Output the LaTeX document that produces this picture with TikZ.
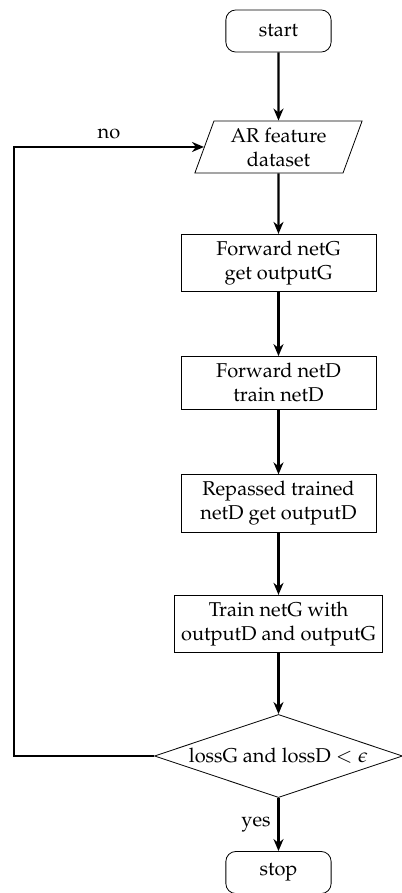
\documentclass[tikz,border=0pt]{standalone}
\usepackage{amsmath,amssymb}
\usepackage[T1]{fontenc}
\usepackage{mathpazo}
\usepackage{xcolor}
\usepackage{tikz}
\usetikzlibrary{shapes.geometric,arrows.meta}

\begin{document}
\begin{tikzpicture}[
    term/.style={draw, rounded corners=5pt, minimum width=1.85cm, minimum height=0.74cm, inner sep=1pt},
    io/.style={draw, trapezium, trapezium left angle=71, trapezium right angle=109, trapezium stretches=true, minimum width=2.95cm, minimum height=0.914cm, align=center, inner sep=1pt},
    proc/.style={draw, minimum width=3.43cm, minimum height=0.93cm, align=center},
    decide/.style={draw, diamond, aspect=3, minimum width=4.36cm, minimum height=1.46cm, inner sep=1pt},
    flow/.style={very thick, -{Stealth[length=6pt,width=5pt]}}
  ]
        \useasboundingbox (0,0) rectangle (7.047,-15.693);
        \node[term] (start) at (4.894,-0.545) {start};
        \node[io] (data) at (4.894,-2.583) {AR feature\\dataset};
        \node[proc] (fwdG) at (4.894,-4.622) {Forward netG\\get outputG};
        \node[proc] (fwdD) at (4.894,-6.730) {Forward netD\\train netD};
        \node[proc] (repass) at (4.894,-8.848) {Repassed trained\\netD get outputD};
        \node[proc] (trainG) at (4.894,-10.966) {Train netG with\\outputD and outputG};
        \node[decide] (check) at (4.894,-13.285) {lossG and lossD $<\epsilon$};
        \node[term] (stop) at (4.894,-15.333) {stop};
        \coordinate (back) at (0.246,-13.285);
        \draw[flow] (start) -- (data);
        \draw[flow] (data) -- (fwdG);
        \draw[flow] (fwdG) -- (fwdD);
        \draw[flow] (fwdD) -- (repass);
        \draw[flow] (repass) -- (trainG);
        \draw[flow] (trainG) -- (check);
        \draw[flow] (check) -- node[left] {yes} (stop);
        \draw[flow] (check.west) -- (back) |- node[above, pos=0.75] {no} (data.west);
      \end{tikzpicture}
\end{document}
